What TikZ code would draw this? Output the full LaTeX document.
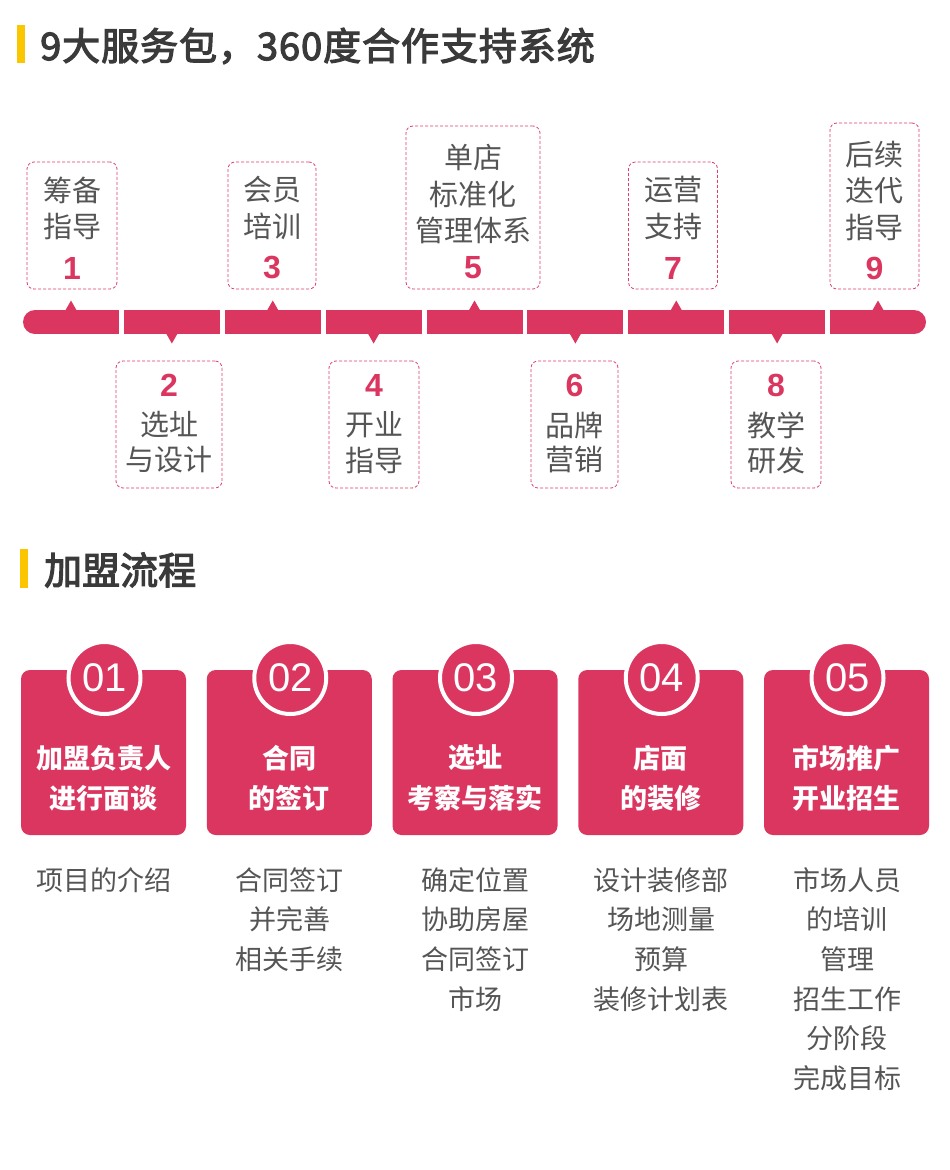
\documentclass[tikz,border=0pt]{standalone}
\usepackage{fontspec}
\setmainfont{Noto Sans CJK SC}
\newfontfamily\semibold[FakeBold=3]{Noto Sans CJK SC}
\newfontfamily\numfont{Liberation Sans}
\definecolor{rosered}{HTML}{DB3660}
\definecolor{dashred}{HTML}{DE3F69}
\definecolor{txtgray}{HTML}{555555}
\definecolor{ttlgray}{HTML}{3A3A3A}
\definecolor{baryellow}{HTML}{FBC600}
\tikzset{
  dbox/.style={draw=dashred, dash pattern=on 3pt off 2pt, rounded corners=7pt, line width=0.8pt, inner sep=0pt},
  btxt/.style={text=txtgray, font=\fontsize{29}{29}\selectfont, inner sep=0pt, anchor=center},
  bnum/.style={text=rosered, font=\numfont\bfseries\fontsize{32}{32}\selectfont, inner sep=0pt, anchor=center},
  ttl/.style={text=ttlgray, inner sep=0pt, anchor=west},
  card/.style={fill=rosered, rounded corners=9pt, minimum width=165pt, minimum height=165pt, inner sep=0pt},
  circ/.style={circle, fill=rosered, draw=white, line width=4pt, minimum size=72pt, inner sep=0pt, text=white, font=\numfont\fontsize{40}{40}\selectfont},
  ctxt/.style={text=white, font=\bfseries\fontsize{27}{27}\selectfont, inner sep=0pt},
  utxt/.style={text=txtgray, font=\fontsize{27}{27}\selectfont, inner sep=0pt}
}
\begin{document}
\begin{tikzpicture}[x=1pt,y=-1pt]
\useasboundingbox (0,0) rectangle (950,1170);
\fill[white] (0,0) rectangle (950,1170);

% ---- section titles
\fill[baryellow] (17,25) rectangle (24.5,63);
\node[ttl, font=\semibold\fontsize{38}{38}\selectfont\addfontfeature{LetterSpace=2.5}] (title1) at (40,46) {9大服务包，360度合作支持系统};
\fill[baryellow] (20,549) rectangle (27.5,588);
\node[ttl, font=\semibold\fontsize{38}{38}\selectfont] (title2) at (44,570) {加盟流程};

% ---- timeline bar
\foreach \i in {0,...,8} {
  \fill[rosered] ({23+100.875*\i},310) rectangle ({119+100.875*\i},334);
}
\fill[white] (10,305) rectangle (35,340);
\fill[rosered] (35,322) circle[radius=12pt];
\fill[rosered] (35,310) rectangle (119,334);
\fill[white] (914,305) rectangle (940,340);
\fill[rosered] (914,322) circle[radius=12pt];
\fill[rosered] (830,310) rectangle (914,334);

% pointers
\foreach \i in {0,2,4,6,8} {
  \fill[rosered] ({65+100.875*\i},311) -- ({71+100.875*\i},300.5) -- ({77+100.875*\i},311) -- cycle;
}
\foreach \i in {1,3,5,7} {
  \fill[rosered] ({65+100.875*\i},333) -- ({71+100.875*\i},343.5) -- ({77+100.875*\i},333) -- cycle;
}

% ---- top boxes
\node[dbox, minimum width=90pt, minimum height=127pt] (b1) at (72,225.5) {};
\node[btxt] (b1a) at (72,190) {筹备};
\node[btxt] (b1b) at (72,226) {指导};
\node[bnum] (b1n) at (72,268) {1};

\node[dbox, minimum width=88pt, minimum height=127pt] (b3) at (272,225.5) {};
\node[btxt] (b3a) at (272,190) {会员};
\node[btxt] (b3b) at (272,226) {培训};
\node[bnum] (b3n) at (272,268) {3};

\node[dbox, minimum width=134pt, minimum height=163pt] (b5) at (473,207.5) {};
\node[btxt] (b5a) at (473,158) {单店};
\node[btxt] (b5b) at (473,194) {标准化};
\node[btxt] (b5c) at (473,230) {管理体系};
\node[bnum] (b5n) at (473,268) {5};

\node[dbox, minimum width=89pt, minimum height=127pt] (b7) at (673,225.5) {};
\node[btxt] (b7a) at (673,190) {运营};
\node[btxt] (b7b) at (673,226) {支持};
\node[bnum] (b7n) at (673,268) {7};

\node[dbox, minimum width=89pt, minimum height=166pt] (b9) at (874.5,206) {};
\node[btxt] (b9a) at (874.5,155) {后续};
\node[btxt] (b9b) at (874.5,191) {迭代};
\node[btxt] (b9c) at (874.5,227) {指导};
\node[bnum] (b9n) at (874.5,268) {9};

% ---- bottom boxes
\node[dbox, minimum width=106pt, minimum height=127pt] (b2) at (169,424.5) {};
\node[bnum] (b2n) at (169,385) {2};
\node[btxt] (b2a) at (169,425) {选址};
\node[btxt] (b2b) at (169,460) {与设计};

\node[dbox, minimum width=90pt, minimum height=127pt] (b4) at (374,424.5) {};
\node[bnum] (b4n) at (374,385) {4};
\node[btxt] (b4a) at (374,425) {开业};
\node[btxt] (b4b) at (374,460) {指导};

\node[dbox, minimum width=87pt, minimum height=127pt] (b6) at (574.5,424.5) {};
\node[bnum] (b6n) at (574.5,385) {6};
\node[btxt] (b6a) at (574.5,425) {品牌};
\node[btxt] (b6b) at (574.5,460) {营销};

\node[dbox, minimum width=90pt, minimum height=127pt] (b8) at (776,424.5) {};
\node[bnum] (b8n) at (776,385) {8};
\node[btxt] (b8a) at (776,425) {教学};
\node[btxt] (b8b) at (776,460) {研发};

% ---- process cards
\foreach \i/\a/\b/\n in {0/加盟负责人/进行面谈/01, 1/合同/的签订/02, 2/选址/考察与落实/03, 3/店面/的装修/04, 4/市场推广/开业招生/05} {
  \node[card] (card\n) at ({103.5+185.75*\i},752.5) {};
  \node[circ] (circ\n) at ({104.5+185.75*\i},678) {\n};
  \node[ctxt] (card\n a) at ({103.5+185.75*\i},758) {\a};
  \node[ctxt] (card\n b) at ({103.5+185.75*\i},798) {\b};
}

% ---- descriptions
\foreach \i/\lst in {0/{项目的介绍}, 1/{合同签订,并完善,相关手续}, 2/{确定位置,协助房屋,合同签订,市场}, 3/{设计装修部,场地测量,预算,装修计划表}, 4/{市场人员,的培训,管理,招生工作,分阶段,完成目标}} {
  \foreach \t [count=\k from 0] in \lst {
    \node[utxt] (desc\i-\k) at ({104+185.75*\i},{880+39.6*\k}) {\t};
  }
}
\end{tikzpicture}
\end{document}
